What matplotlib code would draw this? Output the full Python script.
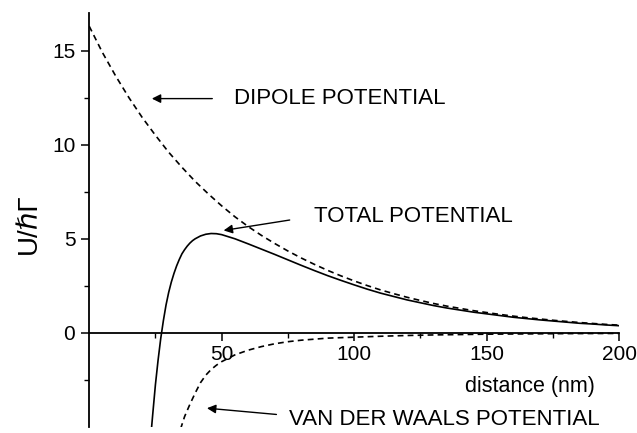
import matplotlib
matplotlib.use("Agg")
import matplotlib.pyplot as plt
from matplotlib.ticker import FixedLocator

plt.rcParams['font.family'] = ['Liberation Sans', 'DejaVu Sans']

# ---- data ----
dipole_x = [0, 5, 10, 15, 20, 25, 30, 35, 40, 45, 50, 55, 60, 65, 70, 75, 80, 85, 90, 95,
            100, 105, 110, 115, 120, 125, 130, 135, 140, 145, 150, 155, 160, 165, 170,
            175, 180, 185, 190, 195, 200]
dipole_u = [16.3, 14.9, 13.65, 12.5, 11.45, 10.5, 9.6, 8.8, 8.05, 7.38, 6.75, 6.17, 5.65,
            5.18, 4.75, 4.35, 3.98, 3.64, 3.32, 3.03, 2.76, 2.51, 2.28, 2.08, 1.89, 1.72,
            1.56, 1.42, 1.30, 1.18, 1.08, 0.98, 0.89, 0.81, 0.74, 0.67, 0.61, 0.55, 0.50,
            0.45, 0.41]

vdw_x = [34.5, 36, 38, 40, 42, 44, 46, 48, 50, 55, 60, 65, 70, 75, 80, 90, 100, 110, 120,
         130, 140, 150, 160, 170, 180, 190, 200]
vdw_u = [-5.1, -4.45, -3.8, -3.2, -2.65, -2.25, -1.95, -1.72, -1.53, -1.17, -0.92, -0.73,
         -0.58, -0.47, -0.39, -0.28, -0.23, -0.18, -0.14, -0.11, -0.09, -0.07, -0.06,
         -0.05, -0.04, -0.035, -0.03]

total_x = [23.5, 24, 25, 26, 27, 28, 29, 30, 31, 32, 33, 34, 35, 36, 37, 38, 39, 40, 42,
           44, 46, 48, 50, 55, 60, 65, 70, 75, 80, 85, 90, 95, 100, 105, 110, 115, 120,
           125, 130, 135, 140, 145, 150, 155, 160, 165, 170, 175, 180, 185, 190, 195, 200]
total_u = [-5.1, -4.3, -2.75, -1.45, -0.3, 0.65, 1.48, 2.15, 2.70, 3.16, 3.56, 3.90, 4.20,
           4.42, 4.61, 4.77, 4.90, 5.0, 5.15, 5.24, 5.28, 5.27, 5.22, 5.0, 4.73, 4.45,
           4.17, 3.88, 3.59, 3.31, 3.04, 2.79, 2.55, 2.32, 2.11, 1.93, 1.75, 1.60, 1.45,
           1.32, 1.21, 1.10, 1.01, 0.92, 0.83, 0.76, 0.69, 0.63, 0.57, 0.51, 0.47, 0.42,
           0.38]

x_major = [50, 100, 150, 200]
x_minor = [25, 75, 125, 175]
y_major = [0, 5, 10, 15]
y_minor = [-2.5, 2.5, 7.5, 12.5]

# ---- figure ----
fig = plt.figure(figsize=(6.37, 4.33), dpi=100)
ax = fig.add_axes([0.140, 0.014, 0.832, 0.956])

ax.plot(dipole_x, dipole_u, color='black', lw=1.2, dashes=(3.5, 2.5))
ax.plot(vdw_x, vdw_u, color='black', lw=1.2, dashes=(3.5, 2.5))
ax.plot(total_x, total_u, color='black', lw=1.2)

ax.set_xlim(0, 200)
ax.set_ylim(-5, 17)

for s in ['top', 'right']:
    ax.spines[s].set_visible(False)
ax.spines['bottom'].set_position(('data', 0))
ax.spines['bottom'].set_linewidth(1.3)
ax.spines['left'].set_linewidth(1.3)

ax.xaxis.set_major_locator(FixedLocator(x_major))
ax.xaxis.set_minor_locator(FixedLocator(x_minor))
ax.yaxis.set_major_locator(FixedLocator(y_major))
ax.yaxis.set_minor_locator(FixedLocator(y_minor))
ax.tick_params(axis='both', which='major', direction='out', length=6, width=1.1,
               labelsize=15)
ax.tick_params(axis='both', which='minor', direction='out', length=3.5, width=1.0)
ax.tick_params(axis='x', which='major', pad=3)
ax.tick_params(axis='y', which='major', pad=4)

ax.set_ylabel('U/ℏΓ', fontsize=20)
ax.yaxis.set_label_coords(-0.09, 0.49)

ax.text(166.4, -2.86, 'distance (nm)', fontsize=15.5, ha='center', va='center')

# annotations
ax.annotate('', xy=(22.6, 12.45), xytext=(47.5, 12.45),
            arrowprops=dict(arrowstyle='-|>', color='black', lw=1.0, mutation_scale=13))
ax.text(54.7, 12.45, 'DIPOLE POTENTIAL', fontsize=16, ha='left', va='center')

ax.annotate('', xy=(49.7, 5.42), xytext=(76.7, 6.02),
            arrowprops=dict(arrowstyle='-|>', color='black', lw=1.0, mutation_scale=13))
ax.text(84.9, 6.17, 'TOTAL POTENTIAL', fontsize=16, ha='left', va='center')

ax.annotate('', xy=(43.4, -3.99), xytext=(71.7, -4.35),
            arrowprops=dict(arrowstyle='-|>', color='black', lw=1.0, mutation_scale=13))
ax.text(75.5, -4.61, 'VAN DER WAALS POTENTIAL', fontsize=16, ha='left', va='center')

fig.savefig('out.png', dpi=100)
